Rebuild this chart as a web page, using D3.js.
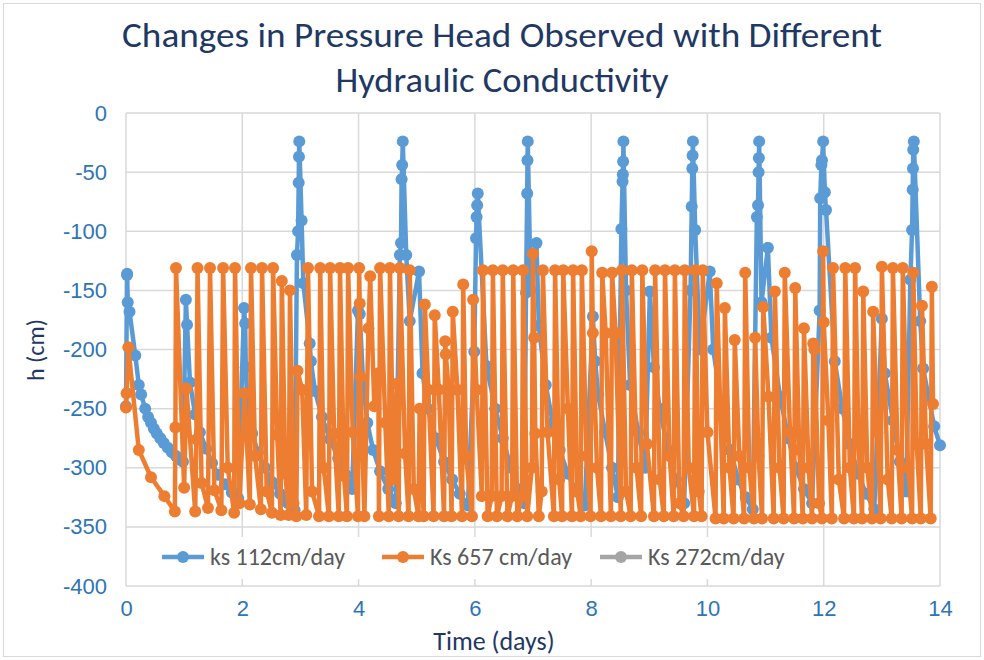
<!DOCTYPE html>
<html><head><meta charset="utf-8">
<script src="https://cdn.jsdelivr.net/npm/d3@7"></script>
<style>
body{margin:0;background:#fff;}
svg{display:block;font-family:Carlito,Calibri,Lato,sans-serif;}
</style></head>
<body>
<svg id="c" width="984" height="660"></svg>
<script>
const titleLines = ["Changes in Pressure Head Observed with Different", "Hydraulic Conductivity"];
const xTicks = [0, 2, 4, 6, 8, 10, 12, 14];
const yTicks = [0, -50, -100, -150, -200, -250, -300, -350, -400];
const seriesNames = ["ks 112cm/day", "Ks 657 cm/day", "Ks 272cm/day"];

// ks 112 cm/day  [time (days), h (cm)]
const ks112 = [
[0,-248],[0.017,-137],[0.02,-136],[0.03,-160],[0.06,-168],[0.16,-205],[0.22,-230],[0.26,-238],[0.33,-250],[0.38,-257],[0.43,-262],[0.48,-267],[0.53,-271],[0.59,-275],[0.65,-279],[0.72,-283],[0.79,-287],[0.86,-290],[0.93,-293],[0.98,-295],
[1.03,-158],[1.05,-179],[1.1,-228],[1.19,-255],[1.27,-270],[1.38,-284],[1.48,-296],[1.58,-306],[1.7,-314],[1.82,-321],[1.93,-326],
[2.03,-165],[2.05,-178],[2.06,-215],[2.09,-251],[2.17,-271],[2.27,-287],[2.39,-300],[2.51,-312],[2.65,-322],[2.79,-330],[2.9,-336],
[2.94,-120],[2.96,-100],[2.97,-59],[2.975,-37],[2.98,-24],[3.02,-91],[3.05,-144],[3.16,-195],[3.18,-210],[3.25,-235],[3.37,-257],[3.51,-276],[3.65,-292],[3.78,-306],[3.89,-318],
[3.99,-167],[4.02,-170],[4.08,-230],[4.15,-262],[4.25,-285],[4.37,-303],[4.51,-318],[4.64,-330],
[4.71,-120],[4.73,-110],[4.74,-56],[4.75,-44],[4.76,-24],[4.82,-120],[4.88,-176],[5.04,-134],[5.1,-220],[5.19,-250],[5.33,-275],[5.47,-295],[5.61,-310],[5.74,-322],[5.88,-332],
[5.99,-202],[6.02,-106],[6.03,-88],[6.04,-78],[6.05,-68],[6.2,-214],[6.35,-250],[6.48,-275],[6.62,-300],[6.74,-318],[6.85,-330],
[6.88,-152],[6.9,-68],[6.905,-40],[6.91,-24],[6.96,-150],[7.06,-110],[7.1,-180],[7.22,-230],[7.34,-262],[7.46,-285],[7.6,-305],[7.74,-320],[7.89,-332],
[8.03,-172],[8.07,-210],[8.12,-238],[8.24,-270],[8.36,-300],[8.46,-325],
[8.52,-98],[8.54,-58],[8.545,-52],[8.55,-41],[8.555,-24],[8.6,-150],[8.67,-230],[8.81,-270],[8.93,-300],[9.01,-151],[9.08,-215],[9.18,-250],[9.32,-285],[9.46,-310],[9.6,-330],
[9.71,-150],[9.73,-79],[9.74,-47],[9.745,-36],[9.75,-24],[9.79,-99],[9.87,-200],[10.04,-134],[10.1,-200],[10.25,-250],[10.39,-285],[10.53,-310],[10.66,-325],[10.78,-335],
[10.85,-88],[10.87,-78],[10.88,-50],[10.885,-38],[10.89,-24],[10.93,-160],[11.04,-114],[11.1,-190],[11.25,-240],[11.39,-275],[11.52,-300],[11.66,-318],[11.8,-330],
[11.93,-167],[11.94,-72],[11.96,-44],[11.97,-40],[11.99,-24],[12.02,-67],[12.04,-82],[12.19,-210],[12.32,-250],[12.45,-280],[12.59,-305],[12.73,-322],[12.87,-335],
[13.0,-174],[13.05,-220],[13.19,-260],[13.31,-295],[13.42,-320],
[13.49,-141],[13.52,-99],[13.53,-65],[13.535,-47],[13.54,-31],[13.55,-24],[13.66,-176],[13.71,-216],[13.9,-265],[14.0,-281]
];

// Ks 657 cm/day  [time (days), h (cm)]
const ks657 = [
[0,-249],[0.01,-237],[0.04,-198],[0.22,-285],[0.43,-308],[0.66,-324],[0.84,-337],[0.85,-266],[0.86,-131],
[1.0,-317],[1.04,-233],[1.19,-337],[1.21,-276],[1.23,-131],
[1.3,-313],[1.41,-334],[1.445,-131],
[1.52,-319],[1.64,-336],[1.67,-131],
[1.75,-300],[1.86,-338],[1.875,-131],
[1.95,-330],[2.04,-237],[2.13,-331],[2.15,-131],
[2.22,-290],[2.32,-335],[2.34,-131],
[2.42,-320],[2.51,-338],[2.53,-131],
[2.6,-272],[2.66,-340],[2.68,-142],
[2.74,-305],[2.8,-340],[2.82,-150],
[2.88,-330],[2.93,-341],[2.95,-218],[3.03,-234],[3.1,-340],[3.13,-131],
[3.2,-320],[3.32,-341],[3.34,-131],
[3.4,-300],[3.49,-341],[3.51,-131],
[3.58,-271],[3.66,-341],[3.68,-131],
[3.75,-307],[3.8,-341],[3.82,-131],
[3.9,-270],[3.99,-341],[4.01,-131],[4.02,-161],[4.03,-223],
[4.1,-341],[4.17,-182],[4.2,-138],
[4.27,-248],[4.34,-220],[4.35,-341],[4.37,-131],
[4.46,-262],[4.52,-341],[4.54,-131],
[4.6,-310],[4.66,-229],[4.69,-341],[4.71,-131],
[4.8,-288],[4.86,-341],[4.88,-133],
[4.95,-318],[5.03,-341],[5.05,-250],[5.12,-341],[5.14,-162],
[5.2,-234],[5.29,-341],[5.31,-171],
[5.38,-234],[5.47,-341],[5.49,-193],[5.5,-204],
[5.55,-234],[5.6,-341],[5.62,-168],
[5.7,-234],[5.78,-341],[5.8,-145],
[5.85,-290],[5.95,-341],[5.97,-158],
[6.03,-234],[6.12,-324],[6.14,-133],
[6.22,-341],[6.29,-324],[6.31,-133],
[6.38,-341],[6.46,-324],[6.48,-133],
[6.56,-341],[6.64,-324],[6.66,-133],
[6.73,-341],[6.81,-324],[6.83,-133],
[6.9,-341],[6.98,-300],[7.0,-119],[7.02,-190],[7.04,-271],
[7.1,-341],[7.15,-320],[7.17,-133],
[7.25,-270],[7.36,-341],[7.38,-133],
[7.45,-310],[7.5,-341],[7.52,-133],
[7.6,-250],[7.67,-341],[7.69,-133],
[7.76,-320],[7.82,-341],[7.84,-133],
[7.92,-290],[7.99,-341],[8.01,-117],[8.03,-186],
[8.1,-300],[8.17,-341],[8.19,-135],
[8.25,-186],[8.34,-341],[8.36,-135],
[8.42,-186],[8.51,-341],[8.53,-133],
[8.6,-320],[8.68,-341],[8.7,-133],
[8.78,-300],[8.86,-341],[8.88,-133],
[8.96,-280],[9.08,-341],[9.1,-133],
[9.18,-310],[9.25,-341],[9.27,-133],
[9.35,-290],[9.42,-341],[9.44,-133],
[9.52,-330],[9.59,-341],[9.61,-133],
[9.68,-300],[9.77,-341],[9.79,-133],
[9.85,-320],[9.9,-341],[9.92,-133],
[10.0,-270],[10.14,-343],[10.16,-144],
[10.22,-250],[10.28,-343],[10.3,-165],
[10.38,-300],[10.45,-343],[10.47,-192],
[10.55,-290],[10.63,-343],[10.65,-135],
[10.72,-300],[10.8,-343],[10.82,-190],
[10.88,-290],[10.94,-343],[10.96,-164],
[11.05,-240],[11.14,-343],[11.16,-151],
[11.24,-300],[11.31,-343],[11.33,-135],
[11.42,-270],[11.49,-343],[11.51,-148],
[11.58,-285],[11.64,-343],[11.66,-182],
[11.74,-300],[11.8,-343],[11.82,-195],[11.84,-200],
[11.92,-330],[11.97,-343],[11.99,-117],[12.0,-177],
[12.08,-260],[12.14,-343],[12.16,-131],
[12.26,-310],[12.35,-343],[12.37,-131],
[12.45,-300],[12.52,-343],[12.54,-131],
[12.6,-280],[12.66,-343],[12.68,-151],
[12.75,-300],[12.83,-343],[12.85,-168],
[12.92,-270],[12.98,-343],[13.0,-130],
[13.1,-310],[13.17,-343],[13.19,-131],
[13.27,-285],[13.34,-343],[13.36,-131],
[13.45,-300],[13.52,-343],[13.54,-135],
[13.6,-280],[13.67,-343],[13.69,-163],
[13.76,-280],[13.84,-343],[13.86,-147],[13.88,-246]
];

// Ks 272 cm/day (hidden beneath the other series)
const ks272 = [];

const colors = ["#5B9BD5", "#ED7D31", "#A5A5A5"];
const navy = "#1F3864";
const tickColor = "#2E75B6";

const svg = d3.select("#c");
svg.append("rect").attr("x",3.5).attr("y",3.5).attr("width",977).attr("height",653)
  .attr("fill","#fff").attr("stroke","#D9D9D9").attr("stroke-width",1);

const x = d3.scaleLinear().domain([0,14]).range([126,940]);
const y = d3.scaleLinear().domain([-400,0]).range([586,113]);

// gridlines
const grid = svg.append("g");
grid.selectAll("line.h").data(yTicks).join("line")
  .attr("x1",x(0)).attr("x2",x(14)).attr("y1",d=>y(d)).attr("y2",d=>y(d))
  .attr("stroke","#D9D9D9").attr("stroke-width",1.5);
grid.selectAll("line.v").data(xTicks).join("line")
  .attr("x1",d=>x(d)).attr("x2",d=>x(d)).attr("y1",y(0)).attr("y2",y(-400))
  .attr("stroke","#D9D9D9").attr("stroke-width",1.5);

// axes labels
const yAxis = svg.append("g").attr("transform",`translate(${x(0)},0)`)
  .call(d3.axisLeft(y).tickValues(yTicks).tickFormat(d=>String(d)).tickSize(0).tickPadding(19));
yAxis.select(".domain").remove();
yAxis.selectAll("text").attr("fill",tickColor).style("font-size","22px");

const xAxis = svg.append("g").attr("transform",`translate(0,${y(-400)})`)
  .call(d3.axisBottom(x).tickValues(xTicks).tickFormat(d=>String(d)).tickSize(0).tickPadding(14));
xAxis.select(".domain").remove();
xAxis.selectAll("text").attr("fill",tickColor).style("font-size","22px");

// series
const line = d3.line().x(d=>x(d[0])).y(d=>y(d[1]));
const data = [ks112, ks657, ks272];
data.forEach((s,i)=>{
  const g = svg.append("g");
  g.append("path").datum(s).attr("d",line).attr("fill","none")
    .attr("stroke",colors[i]).attr("stroke-width",4.5).attr("stroke-linejoin","round");
  g.selectAll("circle").data(s).join("circle")
    .attr("cx",d=>x(d[0])).attr("cy",d=>y(d[1])).attr("r",6).attr("fill",colors[i]);
});

// title
const titleWidths = [760, 333];
svg.append("g").selectAll("text").data(titleLines).join("text")
  .attr("x",502).attr("y",(d,i)=>47+i*45).attr("text-anchor","middle")
  .attr("textLength",(d,i)=>titleWidths[i]).attr("lengthAdjust","spacingAndGlyphs")
  .attr("fill",navy).style("font-size","34px").text(d=>d);

// axis titles
svg.append("text").attr("transform","translate(44,350) rotate(-90)")
  .attr("text-anchor","middle").attr("fill",navy).style("font-size","24px").text("h (cm)");
svg.append("text").attr("x",494).attr("y",650).attr("text-anchor","middle")
  .attr("fill",navy).style("font-size","26px").text("Time (days)");

// legend
const lg = svg.append("g");
lg.append("rect").attr("x",150).attr("y",537).attr("width",665).attr("height",42).attr("fill","#fff");
const legX = [162, 382, 600];
seriesNames.forEach((n,i)=>{
  const gx = legX[i];
  lg.append("line").attr("x1",gx).attr("x2",gx+42).attr("y1",557).attr("y2",557)
    .attr("stroke",colors[i]).attr("stroke-width",4.5);
  lg.append("circle").attr("cx",gx+21).attr("cy",557).attr("r",6).attr("fill",colors[i]);
  lg.append("text").attr("x",gx+48).attr("y",565).attr("fill","#595959")
    .style("font-size","24px").text(n);
});
</script>
</body></html>
